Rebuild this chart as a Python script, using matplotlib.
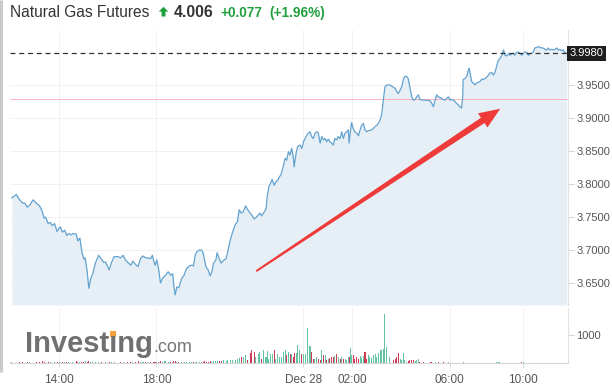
import numpy as np
import pandas as pd
import matplotlib.pyplot as plt
from matplotlib.patches import Polygon, Rectangle
from matplotlib.transforms import blended_transform_factory

plt.rcParams["font.family"] = ["Liberation Sans", "DejaVu Sans"]

W, H = 612, 389

# quote header
name = "Natural Gas Futures"
last_quote = "4.006"
change = "+0.077"
change_pct = "(+1.96%)"
prev_close = 3.929
last_price = 3.998

# intraday prices, Dec 27 12:00 -> Dec 28 12:00 (break 06:00-07:00)
times = [
    "12:05", "12:16", "12:24", "12:32", "12:37", "12:43", "12:49", "12:57", "13:05", "13:13",
    "13:20", "13:24", "13:28", "13:34", "13:39", "13:44", "13:50", "13:56", "14:01", "14:04",
    "14:09", "14:15", "14:20", "14:25", "14:31", "14:35", "14:43", "14:47", "14:52", "14:57",
    "15:02", "15:05", "15:10", "15:14", "15:19", "15:24", "15:30", "15:38", "15:45", "15:51",
    "15:55", "16:04", "16:09", "16:16", "16:26", "16:32", "16:38", "16:44", "16:50", "16:57",
    "17:02", "17:09", "17:15", "17:21", "17:27", "17:34", "17:39", "17:46", "17:50", "17:54",
    "17:57", "18:01",
    "18:05", "18:10", "18:15", "18:21", "18:29", "18:35", "18:40", "18:43", "18:46", "18:50",
    "18:55", "19:02", "19:08", "19:14", "19:21", "19:27", "19:31", "19:35", "19:39", "19:45",
    "19:51", "19:55", "19:58", "20:02", "20:07", "20:12", "20:16", "20:20", "20:26", "20:29",
    "20:34", "20:39", "20:44", "20:51", "20:55", "21:01", "21:06", "21:13", "21:19", "21:23",
    "21:28", "21:33", "21:39", "21:44", "21:50", "21:54", "22:00", "22:04", "22:10", "22:14",
    "22:18", "22:24", "22:29", "22:32", "22:36", "22:40", "22:44", "22:49", "22:53", "22:58",
    "23:02", "23:06",
    "23:11", "23:16", "23:20", "23:24", "23:28", "23:32", "23:36", "23:38", "23:43", "23:47",
    "23:52", "23:57", "00:01", "00:05", "00:11", "00:17", "00:21", "00:25", "00:29", "00:33",
    "00:37", "00:42", "00:46", "00:50", "00:54", "00:58", "01:02", "01:06", "01:10", "01:14",
    "01:18", "01:23", "01:26", "01:31", "01:35", "01:39", "01:43", "01:47", "01:51", "01:53",
    "01:57", "01:59", "02:03", "02:07", "02:12", "02:16", "02:20", "02:24", "02:28", "02:32",
    "02:36", "02:40", "02:44", "02:48", "02:52", "02:57", "03:01", "03:05", "03:09", "03:13",
    "03:17", "03:21", "03:25", "03:33", "03:41", "03:46", "03:50", "03:54", "03:58", "04:02",
    "04:06", "04:10", "04:14", "04:18", "04:22", "04:27", "04:31", "04:35", "04:39", "04:43",
    "04:47", "04:55", "05:03", "05:12", "05:16", "05:20", "05:24", "05:28", "05:32", "05:36",
    "05:40", "05:44", "05:48", "05:53", "05:57",
    "07:01", "07:05", "07:09", "07:13", "07:17", "07:21", "07:25", "07:29", "07:32", "07:33",
    "07:38", "07:42", "07:46", "07:48", "07:50", "07:54", "07:58", "08:02", "08:06", "08:10",
    "08:14", "08:19", "08:22", "08:27", "08:31", "08:35", "08:39", "08:43", "08:47", "08:51",
    "08:55", "08:59", "09:03", "09:08", "09:12", "09:16", "09:20", "09:24", "09:28", "09:32",
    "09:36", "09:40", "09:44", "09:48", "09:53", "09:57", "10:01", "10:05", "10:09", "10:13",
    "10:17", "10:21", "10:25", "10:29", "10:34", "10:38", "10:42", "10:46", "10:50", "10:54",
    "10:58", "11:02", "11:06", "11:10", "11:14", "11:18", "11:23", "11:27", "11:31", "11:35",
    "11:39", "11:43", "11:47",
]

prices = [
    3.779, 3.784, 3.776, 3.771, 3.771, 3.765, 3.768, 3.776, 3.771, 3.767,
    3.758, 3.748, 3.750, 3.740, 3.742, 3.737, 3.740, 3.728, 3.733, 3.735,
    3.727, 3.730, 3.722, 3.725, 3.723, 3.725, 3.724, 3.714, 3.718, 3.697,
    3.686, 3.688, 3.667, 3.642, 3.657, 3.665, 3.680, 3.692, 3.686, 3.681,
    3.682, 3.670, 3.680, 3.690, 3.690, 3.688, 3.692, 3.685, 3.681, 3.677,
    3.683, 3.678, 3.675, 3.687, 3.691, 3.688, 3.688, 3.687, 3.692, 3.682,
    3.677, 3.685,
    3.672, 3.650, 3.657, 3.661, 3.667, 3.662, 3.664, 3.644, 3.632, 3.644,
    3.643, 3.657, 3.662, 3.672, 3.676, 3.677, 3.676, 3.692, 3.697, 3.700,
    3.700, 3.695, 3.685, 3.674, 3.670, 3.661, 3.667, 3.680, 3.685, 3.696,
    3.687, 3.680, 3.684, 3.687, 3.697, 3.715, 3.725, 3.738, 3.743, 3.761,
    3.756, 3.758, 3.767, 3.761, 3.756, 3.753, 3.747, 3.749, 3.753, 3.756,
    3.752, 3.757, 3.762, 3.781, 3.796, 3.801, 3.807, 3.798, 3.803, 3.806,
    3.811, 3.814,
    3.826, 3.839, 3.836, 3.849, 3.844, 3.854, 3.841, 3.826, 3.847, 3.857,
    3.859, 3.854, 3.864, 3.869, 3.876, 3.879, 3.872, 3.869, 3.876, 3.879,
    3.878, 3.862, 3.872, 3.867, 3.869, 3.864, 3.868, 3.864, 3.862, 3.859,
    3.869, 3.867, 3.872, 3.869, 3.879, 3.869, 3.877, 3.879, 3.882, 3.862,
    3.884, 3.893, 3.884, 3.879, 3.877, 3.873, 3.882, 3.889, 3.892, 3.882,
    3.879, 3.881, 3.881, 3.882, 3.884, 3.887, 3.889, 3.892, 3.897, 3.905,
    3.927, 3.947, 3.950, 3.950, 3.947, 3.945, 3.940, 3.937, 3.942, 3.947,
    3.958, 3.963, 3.963, 3.960, 3.947, 3.932, 3.927, 3.928, 3.932, 3.935,
    3.928, 3.927, 3.927, 3.926, 3.922, 3.917, 3.927, 3.935, 3.932, 3.931,
    3.930, 3.928, 3.927, 3.930, 3.932,
    3.927, 3.928, 3.927, 3.925, 3.922, 3.920, 3.917, 3.915, 3.932, 3.958,
    3.960, 3.963, 3.973, 3.975, 3.968, 3.955, 3.953, 3.950, 3.953, 3.954,
    3.955, 3.959, 3.958, 3.960, 3.962, 3.965, 3.968, 3.969, 3.965, 3.969,
    3.978, 3.987, 3.990, 3.995, 4.003, 3.995, 3.994, 3.997, 3.995, 3.997,
    3.998, 3.995, 3.999, 4.000, 3.998, 3.995, 3.998, 4.000, 3.999, 3.995,
    3.997, 3.998, 4.000, 4.006, 4.007, 4.008, 4.007, 4.006, 4.006, 4.004,
    4.003, 4.006, 4.003, 4.004, 4.003, 4.004, 4.006, 4.003, 4.004, 4.002,
    4.003, 3.999, 3.998,
]

volumes = [
    30, 0, 20, 40, 0, 50, 30, 0, 20, 40,
    60, 20, 0, 30, 50, 0, 20, 40, 30, 0,
    20, 50, 30, 40, 0, 30, 60, 40, 20, 30,
    50, 70, 40, 60, 30, 20, 40, 30, 20, 0,
    30, 50, 40, 20, 0, 30, 20, 0, 40, 20,
    30, 50, 60, 30, 20, 40, 30, 20, 0, 30,
    20, 40,
    40, 60, 50, 70, 40, 30, 50, 60, 80, 40,
    30, 40, 20, 30, 40, 30, 50, 40, 30, 40,
    50, 40, 60, 50, 40, 60, 50, 70, 60, 80,
    60, 70, 90, 80, 100, 120, 96, 120, 156, 192,
    216, 216, 277, 96, 361, 481, 397, 216, 337, 397,
    156, 481, 216, 433, 156, 337, 337, 481, 156, 337,
    216, 216,
    397, 457, 277, 397, 337, 337, 216, 361, 361, 638,
    481, 337, 313, 337, 1239, 600, 397, 156, 156, 216,
    156, 120, 457, 277, 277, 120, 156, 192, 216, 216,
    241, 313, 216, 156, 216, 156, 156, 120, 216, 216,
    553, 277, 277, 156, 216, 156, 241, 192, 241, 397,
    156, 277, 216, 192, 277, 337, 216, 361, 457, 481,
    517, 1756, 577, 216, 120, 156, 216, 361, 156, 96,
    361, 96, 36, 72, 96, 120, 96, 72, 96, 156,
    30, 20, 0, 20, 30, 10, 20, 0, 20, 10,
    0, 20, 10, 0, 20,
    10, 0, 0, 0, 10, 0, 0, 0, 0, 20,
    0, 10, 0, 0, 0, 10, 0, 0, 0, 0,
    0, 0, 10, 0, 0, 0, 0, 0, 0, 10,
    30, 20, 30, 0, 10, 0, 0, 0, 0, 0,
    0, 0, 0, 10, 0, 30, 20, 0, 0, 0,
    0, 0, 0, 0, 0, 0, 0, 0, 0, 0,
    0, 0, 0, 0, 0, 0, 0, 0, 0, 0,
    0, 0, 0,
]

price_ticks = [3.65, 3.70, 3.75, 3.80, 3.85, 3.90, 3.95]
tick_times = ["12-27 14:00", "12-27 18:00", "12-28 00:00", "12-28 02:00", "12-28 06:00", "12-28 10:00"]
tick_labels = ["14:00", "18:00", "Dec 28", "02:00", "06:00", "10:00"]

# trend arrow drawn on the chart (time, price)
arrow_from = ("12-27 22:05", 3.668)
arrow_to = ("12-28 09:04", 3.914)

START = pd.Timestamp("2021-12-27 12:00")
BREAK_END = pd.Timestamp("2021-12-28 07:00")

assert len(times) == len(prices) == len(volumes)


def parse_stamp(s):
    return pd.Timestamp("2021-" + s)


def axis_hours(stamps):
    """Hours since session start, with the one hour settlement break removed."""
    h = np.array([(s - START) / pd.Timedelta(hours=1) for s in stamps])
    after = np.array([s >= BREAK_END for s in stamps])
    return np.where(after, h - 1, h)


stamps = []
day = 27
prev = None
for t in times:
    hh, mm = map(int, t.split(":"))
    if prev is not None and (hh, mm) < prev:
        day += 1
    prev = (hh, mm)
    stamps.append(pd.Timestamp(2021, 12, day, hh, mm))

x = axis_hours(stamps)
prices = np.array(prices)
volumes = np.array(volumes)
tick_x = axis_hours([parse_stamp(s) for s in tick_times])


def px_rect(left, top, right, bottom):
    return [left / W, 1 - bottom / H, (right - left) / W, (bottom - top) / H]


fig = plt.figure(figsize=(W / 100, H / 100), dpi=100)
ax = fig.add_axes(px_rect(9.8, 30, 568, 305))
axv = fig.add_axes(px_rect(9.8, 308, 568, 363))

x_max = 22.84
grid_col = "#efefef"
label_col = "#555555"

# --- price pane ---
y_lo, y_hi = 3.6167, 4.0333
ax.fill_between(x, prices, y_lo, color="#e6eef6", lw=0, zorder=1)
ax.plot(x, prices, color="#62a2cf", lw=0.9, zorder=3)
ax.axhline(prev_close, color="#ff8fa8", lw=0.6, alpha=0.8, zorder=2)
ax.axhline(last_price, color="#333333", lw=0.9, ls=(0, (4, 3)), zorder=4)
ax.set_xlim(0, x_max)
ax.set_ylim(y_lo, y_hi)
ax.set_xticks(tick_x)
ax.set_xticklabels([])
ax.set_yticks(price_ticks)
ax.set_yticklabels([f"{v:.4f}" for v in price_ticks])
ax.yaxis.tick_right()
ax.tick_params(axis="y", length=4, width=0.6, color="#cccccc", pad=2,
               labelsize=8, labelcolor=label_col)
ax.tick_params(axis="x", length=0)
ax.grid(True, color=grid_col, lw=0.6, zorder=0)
ax.set_axisbelow(True)
for side in ["top", "left", "bottom"]:
    ax.spines[side].set_visible(False)
ax.spines["right"].set_color("#e2e2e2")
ax.spines["right"].set_linewidth(0.8)

trans = blended_transform_factory(ax.transAxes, ax.transData)
ax.text(1.003, last_price, f"{last_price:.4f}", transform=trans, ha="left", va="center",
        fontsize=8, color="white", zorder=6,
        bbox=dict(boxstyle="square,pad=0.25", fc="#1e1e1e", ec="none"))

# --- volume pane ---
up = np.concatenate([[True], np.diff(prices) >= 0])
bar_cols = np.where(up, "#63c2a2", "#cf3b57")
axv.bar(x, volumes, width=0.042, color=bar_cols, lw=0, zorder=3)
axv.set_xlim(0, x_max)
axv.set_ylim(0, 1964)
axv.set_yticks([1000])
axv.set_yticklabels(["1000"])
axv.yaxis.tick_right()
axv.tick_params(axis="y", length=4, width=0.6, color="#cccccc", pad=2,
                labelsize=8, labelcolor=label_col)
axv.set_xticks(tick_x)
axv.set_xticklabels(tick_labels)
axv.tick_params(axis="x", length=3, width=0.6, color="#d0d0d0", pad=5,
                labelsize=8.5, labelcolor=label_col)
axv.grid(True, axis="x", color=grid_col, lw=0.6, zorder=0)
axv.set_axisbelow(True)
for side in ["top", "left"]:
    axv.spines[side].set_visible(False)
axv.spines["bottom"].set_color("#d5d5d5")
axv.spines["right"].set_color("#e2e2e2")
axv.spines["bottom"].set_linewidth(0.8)
axv.spines["right"].set_linewidth(0.8)

# --- overlay in pixel coordinates for header, logo and arrow ---
ov = fig.add_axes([0, 0, 1, 1], zorder=10)
ov.set_xlim(0, W)
ov.set_ylim(H, 0)
ov.axis("off")
ov.patch.set_alpha(0)

ov.plot([1.2, 1.2], [0, 372], color="#c9c9c9", lw=2.2, solid_capstyle="butt")

base = 16.7
green = "#22a03f"
ov.text(10.5, base, name, fontsize=11.2, color="#333333", va="baseline", ha="left")
ov.add_patch(Polygon([[163.5, 6.8], [168.3, 11.6], [165.5, 11.6], [165.5, 16.5],
                      [161.5, 16.5], [161.5, 11.6], [158.7, 11.6]],
                     closed=True, fc=green, ec="none"))
ov.text(173.5, base, last_quote, fontsize=11.3, fontweight="bold", color="#333333",
        va="baseline", ha="left")
ov.text(220, base, change, fontsize=9.8, fontweight="bold", color=green,
        va="baseline", ha="left")
ov.text(269, base, change_pct, fontsize=9.8, fontweight="bold", color=green,
        va="baseline", ha="left")

# Investing.com logo with orange dot on the i
logo_base = 351.5
logo = ov.text(25, logo_base, "Invest\u0131ng", fontsize=21, fontweight="bold",
               color="#707070", va="baseline", ha="left")
renderer = fig.canvas.get_renderer()
pre = ov.text(25, logo_base, "Invest", fontsize=21, fontweight="bold",
              va="baseline", ha="left", alpha=0)
stem = ov.text(25, logo_base, "Invest\u0131", fontsize=21, fontweight="bold",
               va="baseline", ha="left", alpha=0)
logo_box = logo.get_window_extent(renderer)
x_pre = pre.get_window_extent(renderer).x1
x_stem = stem.get_window_extent(renderer).x1
dot_cx = (x_pre + x_stem) / 2
dot_w = 0.7 * (x_stem - x_pre)
ov.add_patch(Rectangle((dot_cx - dot_w / 2, logo_base - 20.5), dot_w, dot_w,
                       fc="#f5a03a", ec="none"))
ov.text(logo_box.x1 + 0.5, logo_base, ".com", fontsize=13, color="#777777",
        va="baseline", ha="left")


# tapered red arrow
def to_px(stamp, price):
    hx = axis_hours([parse_stamp(stamp)])[0]
    dx, dy = ax.transData.transform((hx, price))
    return np.array([dx, H - dy])


p0 = to_px(*arrow_from)
p1 = to_px(*arrow_to)
d = p1 - p0
u = d / np.hypot(*d)
n = np.array([-u[1], u[0]])
head_len, head_w, w0, w1 = 21, 8.5, 1.0, 3.2
hb = p1 - u * head_len
pts = [p0 + n * w0, hb + n * w1, hb + n * head_w, p1, hb - n * head_w, hb - n * w1, p0 - n * w0]
ov.add_patch(Polygon(pts, closed=True, fc="#ef3a3a", ec="none"))

fig.savefig("out.png", dpi=100)
